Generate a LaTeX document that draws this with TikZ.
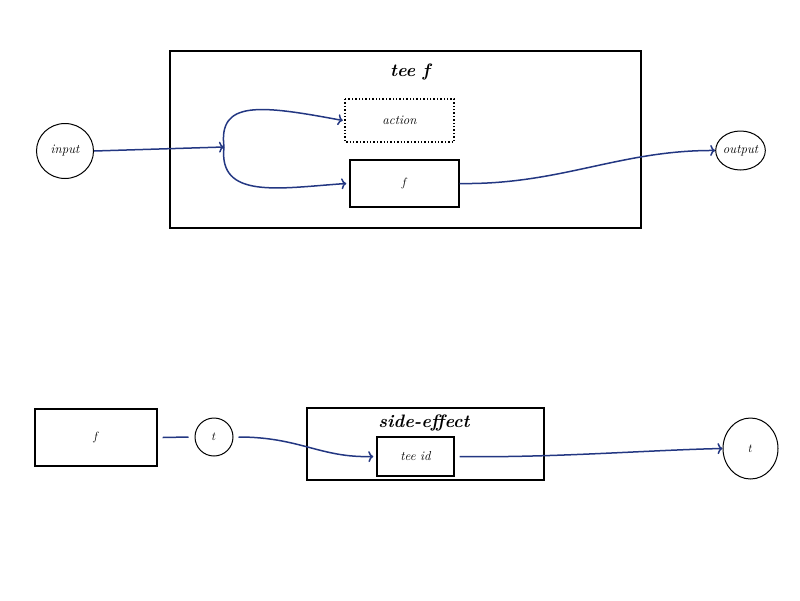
\documentclass[tikz,border=0pt]{standalone}
\usetikzlibrary{arrows.meta,shapes.geometric}
\definecolor{wire}{RGB}{35,55,130}
\begin{document}
\begin{tikzpicture}[x=1pt,y=-1pt,
  frame/.style={draw,line width=2.2pt},
  box/.style={draw,line width=1.4pt},
  lab/.style={font=\itshape\fontsize{13}{15}\selectfont},
  ttl/.style={font=\bfseries\itshape\fontsize{18}{21}\selectfont},
  wireline/.style={draw=wire,line width=1.5pt,-{To[length=5pt,width=11pt]}},
  plain/.style={draw=wire,line width=1.5pt}]
\useasboundingbox (0,0) rectangle (800,600);
% top
\draw[frame] (170,51) rectangle (641,228);
\node[ttl] (t1) at (410,72) {tee f};
\draw[line width=1.4pt,dotted] (345,99) rectangle (454,142);
\node[lab,minimum width=109pt,minimum height=43pt,inner sep=0pt] (act) at (399.5,120.5) {action};
\node[box,lab,minimum width=109pt,minimum height=47pt,inner sep=0pt] (fa) at (404.5,183.5) {$f$};
\node[draw,line width=1pt,ellipse,minimum width=57pt,minimum height=55pt,inner sep=0pt,lab] (in) at (65,151) {input};
\node[draw,line width=1pt,ellipse,minimum width=45pt,minimum height=39pt,inner sep=0pt,lab] (out) at (740.5,150.5) {output};
\coordinate (j) at (224,147);
\draw[wireline] (in.east) -- (j);
\draw[wireline] (j) .. controls (218,100) and (260,105) .. ([xshift=-2pt]act.west);
\draw[wireline] (j) .. controls (218,200) and (280,188) .. ([xshift=-3pt]fa.west);
\draw[wireline] (fa.east) .. controls (560,185) and (620,150) .. (out.west);
% bottom
\node[box,lab,minimum width=122pt,minimum height=57pt,inner sep=0pt] (fb) at (96,437.5) {$f$};
\node[draw,line width=1pt,circle,minimum size=38pt,inner sep=0pt,lab] (t2) at (214,437) {$t$};
\draw[plain] ([xshift=5pt]fb.east) -- ([xshift=-6pt]t2.west);
\draw[frame] (307,408) rectangle (544,480);
\node[ttl] (se) at (424,423) {side-effect};
\node[box,lab,minimum width=77pt,minimum height=39pt,inner sep=0pt] (tid) at (415.5,456.5) {tee id};
\node[draw,line width=1pt,ellipse,minimum width=55pt,minimum height=61pt,inner sep=0pt,lab] (t3) at (750.5,448.5) {$t$};
\draw[wireline] ([xshift=5pt]t2.east) .. controls (300,437) and (320,458) .. ([xshift=-3pt]tid.west);
\draw[wireline] ([xshift=5pt]tid.east) .. controls (550,458) and (650,450) .. (t3.west);
\end{tikzpicture}
\end{document}
